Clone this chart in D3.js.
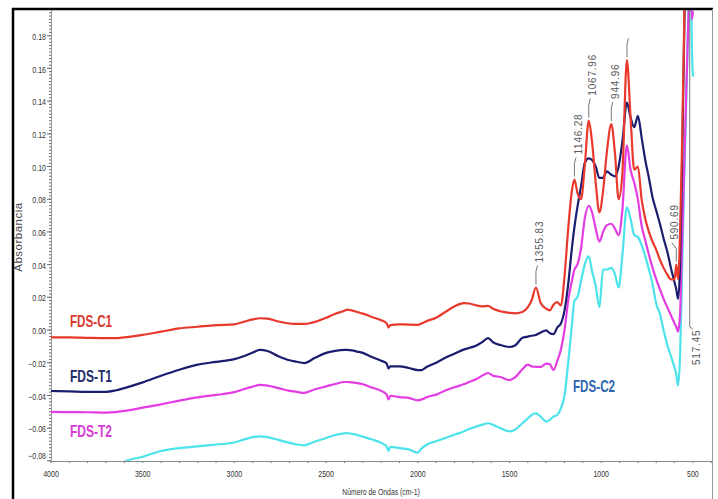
<!DOCTYPE html>
<html>
<head>
<meta charset="utf-8">
<script src="https://cdn.jsdelivr.net/npm/d3@7/dist/d3.min.js"></script>
<style>
  html, body { margin: 0; padding: 0; background: #fff; }
  svg { display: block; }
</style>
</head>
<body>
<svg id="chart" width="718" height="499"></svg>
<script>
// Shared wavenumber grid (cm-1), high to low
const wavenumbers = [
  4000, 3900, 3800, 3700, 3650, 3600,
  3500, 3400, 3300, 3200, 3100, 3000,
  2950, 2900, 2860, 2820, 2760, 2700,
  2660, 2620, 2560, 2500, 2450, 2400,
  2386, 2360, 2330, 2300, 2250, 2200,
  2170, 2160, 2150, 2100, 2050, 2000,
  1980, 1950, 1900, 1850, 1800, 1750,
  1720, 1680, 1650, 1617, 1590, 1550,
  1500, 1470, 1430, 1400, 1380, 1356,
  1330, 1300, 1280, 1260, 1240, 1220,
  1200, 1180, 1160, 1146, 1130, 1110,
  1090, 1068, 1050, 1030, 1010, 990,
  970, 945, 925, 905, 885, 860,
  840, 820, 800, 780, 760, 740,
  720, 700, 680, 660, 640, 620,
  600, 591, 581, 570, 560, 550,
  540, 530, 520, 512, 505, 500
];

// Absorbance of each sample on that grid
const fdsC1 = [
  -0.0045, -0.0045, -0.0048, -0.0050, -0.0050, -0.0045,
  -0.0030, -0.0010, 0.0010, 0.0020, 0.0030, 0.0035,
  0.0050, 0.0065, 0.0072, 0.0070, 0.0052, 0.0040,
  0.0037, 0.0037, 0.0050, 0.0075, 0.0100, 0.0118,
  0.0125, 0.0120, 0.0110, 0.0100, 0.0080, 0.0060,
  0.0042, 0.0015, 0.0030, 0.0035, 0.0033, 0.0032,
  0.0040, 0.0055, 0.0075, 0.0110, 0.0145, 0.0165,
  0.0162, 0.0150, 0.0145, 0.0148, 0.0130, 0.0115,
  0.0105, 0.0102, 0.0110, 0.0140, 0.0180, 0.0260,
  0.0165, 0.0130, 0.0120, 0.0155, 0.0170, 0.0150,
  0.0330, 0.0620, 0.0850, 0.0920, 0.0840, 0.0800,
  0.1000, 0.1280, 0.1150, 0.0900, 0.0720, 0.0850,
  0.1080, 0.1260, 0.1080, 0.0800, 0.0950, 0.1650,
  0.1300, 0.0980, 0.1000, 0.0800, 0.0680, 0.0600,
  0.0540, 0.0490, 0.0430, 0.0380, 0.0340, 0.0310,
  0.0310, 0.0400, 0.0310, 0.0600, 0.1100, 0.1700,
  0.2400, 0.2800, 0.3000, 0.3000, 0.3000, 0.3000
];

const fdsT1 = [
  -0.0373, -0.0375, -0.0378, -0.0378, -0.0370, -0.0355,
  -0.0320, -0.0280, -0.0243, -0.0212, -0.0195, -0.0178,
  -0.0160, -0.0138, -0.0122, -0.0128, -0.0160, -0.0185,
  -0.0194, -0.0202, -0.0170, -0.0140, -0.0128, -0.0122,
  -0.0122, -0.0125, -0.0132, -0.0140, -0.0165, -0.0188,
  -0.0205, -0.0235, -0.0222, -0.0222, -0.0232, -0.0245,
  -0.0245, -0.0225, -0.0200, -0.0170, -0.0145, -0.0120,
  -0.0110, -0.0095, -0.0075, -0.0049, -0.0075, -0.0092,
  -0.0104, -0.0095, -0.0048, -0.0040, -0.0035, -0.0030,
  -0.0015, -0.0002, -0.0020, -0.0025, 0.0015, 0.0040,
  0.0120, 0.0280, 0.0500, 0.0630, 0.0750, 0.0880,
  0.1020, 0.1050, 0.1040, 0.1000, 0.0930, 0.0930,
  0.0970, 0.0950, 0.0940, 0.1000, 0.1150, 0.1390,
  0.1300, 0.1240, 0.1310, 0.1180, 0.1040, 0.0930,
  0.0810, 0.0730, 0.0650, 0.0560, 0.0480, 0.0380,
  0.0290, 0.0250, 0.0190, 0.0400, 0.0950, 0.1650,
  0.2300, 0.2800, 0.3000, 0.3000, 0.3000, 0.3000
];

const fdsT2 = [
  -0.0500, -0.0502, -0.0503, -0.0505, -0.0502, -0.0495,
  -0.0475, -0.0455, -0.0432, -0.0412, -0.0397, -0.0380,
  -0.0362, -0.0346, -0.0336, -0.0340, -0.0355, -0.0372,
  -0.0378, -0.0385, -0.0362, -0.0345, -0.0330, -0.0318,
  -0.0318, -0.0320, -0.0325, -0.0332, -0.0352, -0.0372,
  -0.0395, -0.0425, -0.0402, -0.0410, -0.0415, -0.0430,
  -0.0425, -0.0410, -0.0395, -0.0370, -0.0350, -0.0332,
  -0.0318, -0.0300, -0.0280, -0.0263, -0.0280, -0.0287,
  -0.0306, -0.0290, -0.0240, -0.0212, -0.0222, -0.0225,
  -0.0226, -0.0205, -0.0210, -0.0245, -0.0190, -0.0120,
  0.0000, 0.0180, 0.0300, 0.0370, 0.0400, 0.0500,
  0.0680, 0.0760, 0.0720, 0.0620, 0.0540, 0.0600,
  0.0640, 0.0650, 0.0620, 0.0580, 0.0730, 0.1130,
  0.0980, 0.0900, 0.0800, 0.0640, 0.0550, 0.0460,
  0.0380, 0.0310, 0.0250, 0.0190, 0.0140, 0.0090,
  0.0040, 0.0020, -0.0010, 0.0100, 0.0500, 0.0900,
  0.1300, 0.1700, 0.2050, 0.2150, 0.1900, 0.1950
];

const fdsC2 = [
  -0.1000, -0.0960, -0.0920, -0.0870, -0.0840, -0.0805,
  -0.0775, -0.0740, -0.0722, -0.0712, -0.0700, -0.0688,
  -0.0670, -0.0655, -0.0650, -0.0655, -0.0672, -0.0690,
  -0.0700, -0.0705, -0.0682, -0.0660, -0.0642, -0.0632,
  -0.0630, -0.0635, -0.0642, -0.0652, -0.0670, -0.0690,
  -0.0712, -0.0740, -0.0715, -0.0722, -0.0730, -0.0750,
  -0.0725, -0.0700, -0.0680, -0.0660, -0.0640, -0.0620,
  -0.0605, -0.0590, -0.0580, -0.0570, -0.0580, -0.0600,
  -0.0620, -0.0610, -0.0570, -0.0540, -0.0520, -0.0510,
  -0.0530, -0.0560, -0.0550, -0.0530, -0.0520, -0.0480,
  -0.0400, -0.0200, 0.0030, 0.0180, 0.0200, 0.0300,
  0.0400, 0.0450, 0.0360, 0.0270, 0.0140, 0.0370,
  0.0370, 0.0380, 0.0340, 0.0260, 0.0450, 0.0750,
  0.0680, 0.0580, 0.0570, 0.0520, 0.0450, 0.0370,
  0.0280, 0.0160, 0.0100, 0.0000, -0.0090, -0.0160,
  -0.0230, -0.0270, -0.0340, -0.0150, 0.0300, 0.0800,
  0.1250, 0.1700, 0.2100, 0.2200, 0.1700, 0.1550
];

const seriesNames = ["FDS-C1", "FDS-T1", "FDS-T2", "FDS-C2"];
const xTickValues = [4000, 3500, 3000, 2500, 2000, 1500, 1000, 500];
const yTickValues = [-0.08, -0.06, -0.04, -0.02, 0.00, 0.02, 0.04, 0.06, 0.08, 0.10, 0.12, 0.14, 0.16, 0.18];
// Peak positions marked on the FDS-C1 trace
const peakMarks = [1355.83, 1146.28, 1067.96, 944.96, 859.5, 590.69, 517.45];
const xTitle = "Número de Ondas (cm-1)";
const yTitle = "Absorbancia";

// ---- layout ----
const plot = { left: 51, right: 712, top: 10, bottom: 461 };
const x = d3.scaleLinear().domain([4000, 396]).range([plot.left, plot.right]);
const y = d3.scaleLinear().domain([-0.0801, 0.1957]).range([plot.bottom, plot.top]);

const svg = d3.select("#chart");
const FONT = "'Liberation Sans', Arial, sans-serif";

// squeeze horizontal text to a narrow face
function condense(sel, factor) {
  sel.each(function () {
    const len = this.getComputedTextLength();
    d3.select(this).attr("textLength", len * factor).attr("lengthAdjust", "spacingAndGlyphs");
  });
}

svg.append("defs").append("clipPath").attr("id", "plotClip")
  .append("rect")
  .attr("x", plot.left).attr("y", plot.top)
  .attr("width", plot.right - plot.left).attr("height", plot.bottom - plot.top);

// ---- axes ----
const axisColor = "#6a6a6a";
const gY = svg.append("g");
// minor ticks on y
gY.selectAll("line.minor")
  .data(d3.range(-80, 196, 2).map(v => v / 1000))
  .join("line")
  .attr("x1", plot.left - 2).attr("x2", plot.left)
  .attr("y1", d => y(d)).attr("y2", d => y(d))
  .attr("stroke", axisColor).attr("stroke-width", 1);
gY.selectAll("line.major")
  .data(yTickValues)
  .join("line")
  .attr("x1", plot.left - 4).attr("x2", plot.left)
  .attr("y1", d => y(d)).attr("y2", d => y(d))
  .attr("stroke", axisColor).attr("stroke-width", 1);
gY.append("line")
  .attr("x1", plot.left + 0.5).attr("x2", plot.left + 0.5)
  .attr("y1", plot.top).attr("y2", plot.bottom)
  .attr("stroke", "#9a9a9a").attr("stroke-width", 1);
const yLabels = gY.selectAll("text")
  .data(yTickValues)
  .join("text")
  .attr("x", plot.left - 5)
  .attr("y", d => y(d) + (y(d) > plot.bottom - 3 ? -5 : 1))
  .attr("dy", "0.35em")
  .attr("text-anchor", "end")
  .attr("font-family", FONT).attr("font-size", 9).attr("fill", "#333")
  .text(d => d3.format(".2f")(d));
condense(yLabels, 0.78);

const gX = svg.append("g");
gX.selectAll("line.minor")
  .data(d3.range(4000, 399, -100))
  .join("line")
  .attr("x1", d => x(d)).attr("x2", d => x(d))
  .attr("y1", plot.bottom).attr("y2", plot.bottom + 2)
  .attr("stroke", axisColor).attr("stroke-width", 1);
gX.append("line")
  .attr("x1", plot.left).attr("x2", plot.right)
  .attr("y1", plot.bottom + 0.5).attr("y2", plot.bottom + 0.5)
  .attr("stroke", "#8a8a8a").attr("stroke-width", 1.2);
const xLabels = gX.selectAll("text")
  .data(xTickValues)
  .join("text")
  .attr("x", d => x(d))
  .attr("y", 477)
  .attr("text-anchor", "middle")
  .attr("font-family", FONT).attr("font-size", 9).attr("fill", "#333")
  .text(d => d);
condense(xLabels, 0.78);

const xt = svg.append("text")
  .attr("x", 381).attr("y", 495)
  .attr("text-anchor", "middle")
  .attr("font-family", FONT).attr("font-size", 9).attr("fill", "#333")
  .text(xTitle);
condense(xt, 0.76);

svg.append("text")
  .attr("transform", "translate(22,237) rotate(-90)")
  .attr("text-anchor", "middle")
  .attr("font-family", FONT).attr("font-size", 11.5).attr("letter-spacing", 0.5)
  .attr("fill", "#4a4a4a")
  .text(yTitle);

// ---- spectra ----
const colors = { "FDS-C1": "#e8392c", "FDS-T1": "#1b1d6e", "FDS-T2": "#e33de3", "FDS-C2": "#4de3ea" };
const seriesValues = { "FDS-C1": fdsC1, "FDS-T1": fdsT1, "FDS-T2": fdsT2, "FDS-C2": fdsC2 };
const line = d3.line()
  .x(d => x(d[0]))
  .y(d => y(d[1]))
  .curve(d3.curveMonotoneX);

const gLines = svg.append("g").attr("clip-path", "url(#plotClip)");
["FDS-C2", "FDS-T2", "FDS-T1", "FDS-C1"].forEach(name => {
  const pts = wavenumbers.map((w, i) => [w, seriesValues[name][i]]);
  gLines.append("path")
    .datum(pts)
    .attr("d", line)
    .attr("fill", "none")
    .attr("stroke", colors[name])
    .attr("stroke-width", 2.2)
    .attr("stroke-linejoin", "round");
});

// ---- peak annotations on FDS-C1 ----
const gPeaks = svg.append("g").attr("clip-path", "url(#plotClip)");
const leanOf = { "590.69": -4.5 };
const offScaleLeaderEnd = 327;
peakMarks.forEach(wn => {
  const i = d3.minIndex(wavenumbers, w => Math.abs(w - wn));
  const v = fdsC1[i];
  const px = x(wn);
  const label = wn.toFixed(2);
  if (v > y.domain()[1]) {
    // peak runs off the top: leader drops from the frame, label beneath it
    gPeaks.append("path")
      .attr("d", `M${px},${plot.top} L${px},${offScaleLeaderEnd} L${px + 3},${offScaleLeaderEnd + 2}`)
      .attr("fill", "none").attr("stroke", "#777").attr("stroke-width", 1);
    gPeaks.append("text")
      .attr("transform", `translate(${px + 7},${offScaleLeaderEnd + 38}) rotate(-90)`)
      .attr("dy", "0.35em")
      .attr("font-family", FONT).attr("font-size", 10).attr("letter-spacing", 0.8)
      .attr("fill", "#5a5a5a")
      .text(label);
    return;
  }
  const py = y(v);
  const lean = leanOf[label] !== undefined ? leanOf[label] : 1.5;
  gPeaks.append("path")
    .attr("d", `M${px},${py - 3} L${px},${py - 16} L${px + lean},${py - 22}`)
    .attr("fill", "none").attr("stroke", "#777").attr("stroke-width", 1);
  const t = gPeaks.append("text")
    .attr("transform", `translate(${px + lean + 2.5},${py - 25}) rotate(-90)`)
    .attr("dy", "0.35em")
    .attr("font-family", FONT).attr("font-size", 10).attr("letter-spacing", 0.8)
    .attr("fill", "#5a5a5a")
    .text(label);
  // drop labels that would not fit below the frame
  if (py - 25 - t.node().getComputedTextLength() < plot.top) t.remove();
});

// ---- series labels ----
const labelColors = { "FDS-C1": "#d9382c", "FDS-T1": "#232a6b", "FDS-T2": "#d93ad6", "FDS-C2": "#2e66b3" };
const labelPos = { "FDS-C1": [70, 327], "FDS-T1": [70, 382], "FDS-T2": [70, 437], "FDS-C2": [573, 392] };
seriesNames.forEach(name => {
  svg.append("text")
    .attr("x", labelPos[name][0]).attr("y", labelPos[name][1])
    .attr("font-family", FONT).attr("font-size", 17).attr("font-weight", "bold")
    .attr("fill", labelColors[name])
    .attr("textLength", 42).attr("lengthAdjust", "spacingAndGlyphs")
    .text(name);
});

// ---- frame ----
svg.append("line").attr("x1", 12).attr("x2", 713).attr("y1", 9).attr("y2", 9)
  .attr("stroke", "#000").attr("stroke-width", 2.5);
svg.append("line").attr("x1", 13).attr("x2", 13).attr("y1", 8).attr("y2", 499)
  .attr("stroke", "#000").attr("stroke-width", 2.5);
svg.append("line").attr("x1", 712.5).attr("x2", 712.5).attr("y1", 9).attr("y2", 499)
  .attr("stroke", "#999").attr("stroke-width", 1);
</script>
</body>
</html>
